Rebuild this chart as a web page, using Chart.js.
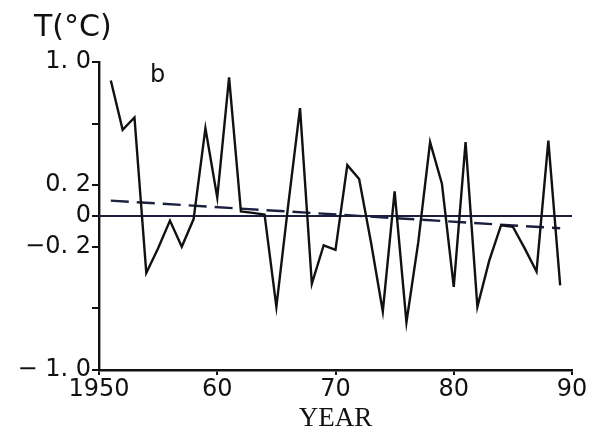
<!DOCTYPE html>
<html>
<head>
<meta charset="utf-8">
<script src="https://cdn.jsdelivr.net/npm/chart.js@4"></script>
<style>
  body { margin: 0; background: #fff; }
  #wrap { width: 596px; height: 437px; }
</style>
</head>
<body>
<div id="wrap"><canvas id="chart" width="596" height="437"></canvas></div>
<script>
// Temperature anomaly series
const years = [1951,1952,1953,1954,1955,1956,1957,1958,1959,1960,
               1961,1962,1963,1964,1965,1966,1967,1968,1969,1970,
               1971,1972,1973,1974,1975,1976,1977,1978,1979,1980,
               1981,1982,1983,1984,1985,1986,1987,1988,1989];
const anomalies = [0.88,0.56,0.64,-0.37,-0.21,-0.03,-0.20,-0.02,0.57,0.12,
                   0.90,0.03,0.02,0.01,-0.59,0.07,0.70,-0.44,-0.19,-0.22,
                   0.33,0.24,-0.17,-0.62,0.16,-0.69,-0.17,0.48,0.21,-0.46,
                   0.48,-0.59,-0.29,-0.06,-0.07,-0.21,-0.36,0.49,-0.45];

// linear trend (dashed) and zero reference
const trendYears = [1951, 1989];
const trendValues = [0.10, -0.08];
const zeroYears = [1950, 1990];
const zeroValues = [0, 0];

// axis ticks
const xTickValues = [1950, 1960, 1970, 1980, 1990];
const xTickLabels = ["1950", "60", "70", "80", "90"];
const yTickValues = [1, 0.6, 0.2, 0, -0.2, -0.6, -1];
const yTickLabels = ["1. 0", "", "0. 2", "0", "\u22120. 2", "", "\u2212 1. 0"];

const ink = "#111";
const navy = "#1c2040";

const toPoints = (xs, ys) => xs.map((x, i) => ({ x: x, y: ys[i] }));

// extra labels: unit and panel letter
const textPlugin = {
    id: "panelText",
    afterDraw(chart) {
        const ctx = chart.ctx;
        ctx.save();
        ctx.fillStyle = ink;
        ctx.textBaseline = "alphabetic";
        ctx.textAlign = "left";
        ctx.font = "30px 'DejaVu Sans'";
        ctx.fillText("T(°C)", 34, 36);
        ctx.font = "24px 'DejaVu Sans'";
        ctx.fillText("b", 150, 82);
        ctx.restore();
    }
};

new Chart(document.getElementById("chart"), {
    type: "line",
    data: {
        datasets: [
            {
                data: toPoints(years, anomalies),
                borderColor: ink,
                borderWidth: 2.4,
                pointRadius: 0,
                tension: 0
            },
            {
                data: toPoints(trendYears, trendValues),
                borderColor: navy,
                borderWidth: 2.4,
                borderDash: [18, 8],
                pointRadius: 0
            },
            {
                data: toPoints(zeroYears, zeroValues),
                borderColor: navy,
                borderWidth: 2.2,
                pointRadius: 0
            }
        ]
    },
    options: {
        responsive: false,
        animation: false,
        layout: { padding: { top: 62, right: 24, left: 0, bottom: 0 } },
        plugins: { legend: { display: false }, tooltip: { enabled: false } },
        scales: {
            x: {
                type: "linear",
                min: 1950,
                max: 1990,
                afterBuildTicks: s => { s.ticks = xTickValues.map(v => ({ value: v })); },
                afterFit: s => { s.height = 67; },
                ticks: {
                    callback: (v, i) => xTickLabels[i],
                    color: ink,
                    font: { family: "DejaVu Sans", size: 24 },
                    padding: 0,
                    maxRotation: 0
                },
                grid: { drawOnChartArea: false, color: ink, tickLength: 5, lineWidth: 2 },
                border: { color: ink, width: 2.4 },
                title: {
                    display: true,
                    text: "YEAR",
                    color: ink,
                    font: { family: "Liberation Serif", size: 27 },
                    padding: { top: 0, bottom: 2 }
                }
            },
            y: {
                min: -1,
                max: 1,
                afterBuildTicks: s => { s.ticks = yTickValues.map(v => ({ value: v })); },
                afterFit: s => { s.width = 99; },
                ticks: {
                    callback: (v, i) => yTickLabels[i],
                    color: ink,
                    font: { family: "DejaVu Sans", size: 24 },
                    padding: 1
                },
                grid: { drawOnChartArea: false, color: ink, tickLength: 7, lineWidth: 2 },
                border: { color: ink, width: 2.4 }
            }
        }
    },
    plugins: [textPlugin]
});
</script>
</body>
</html>
